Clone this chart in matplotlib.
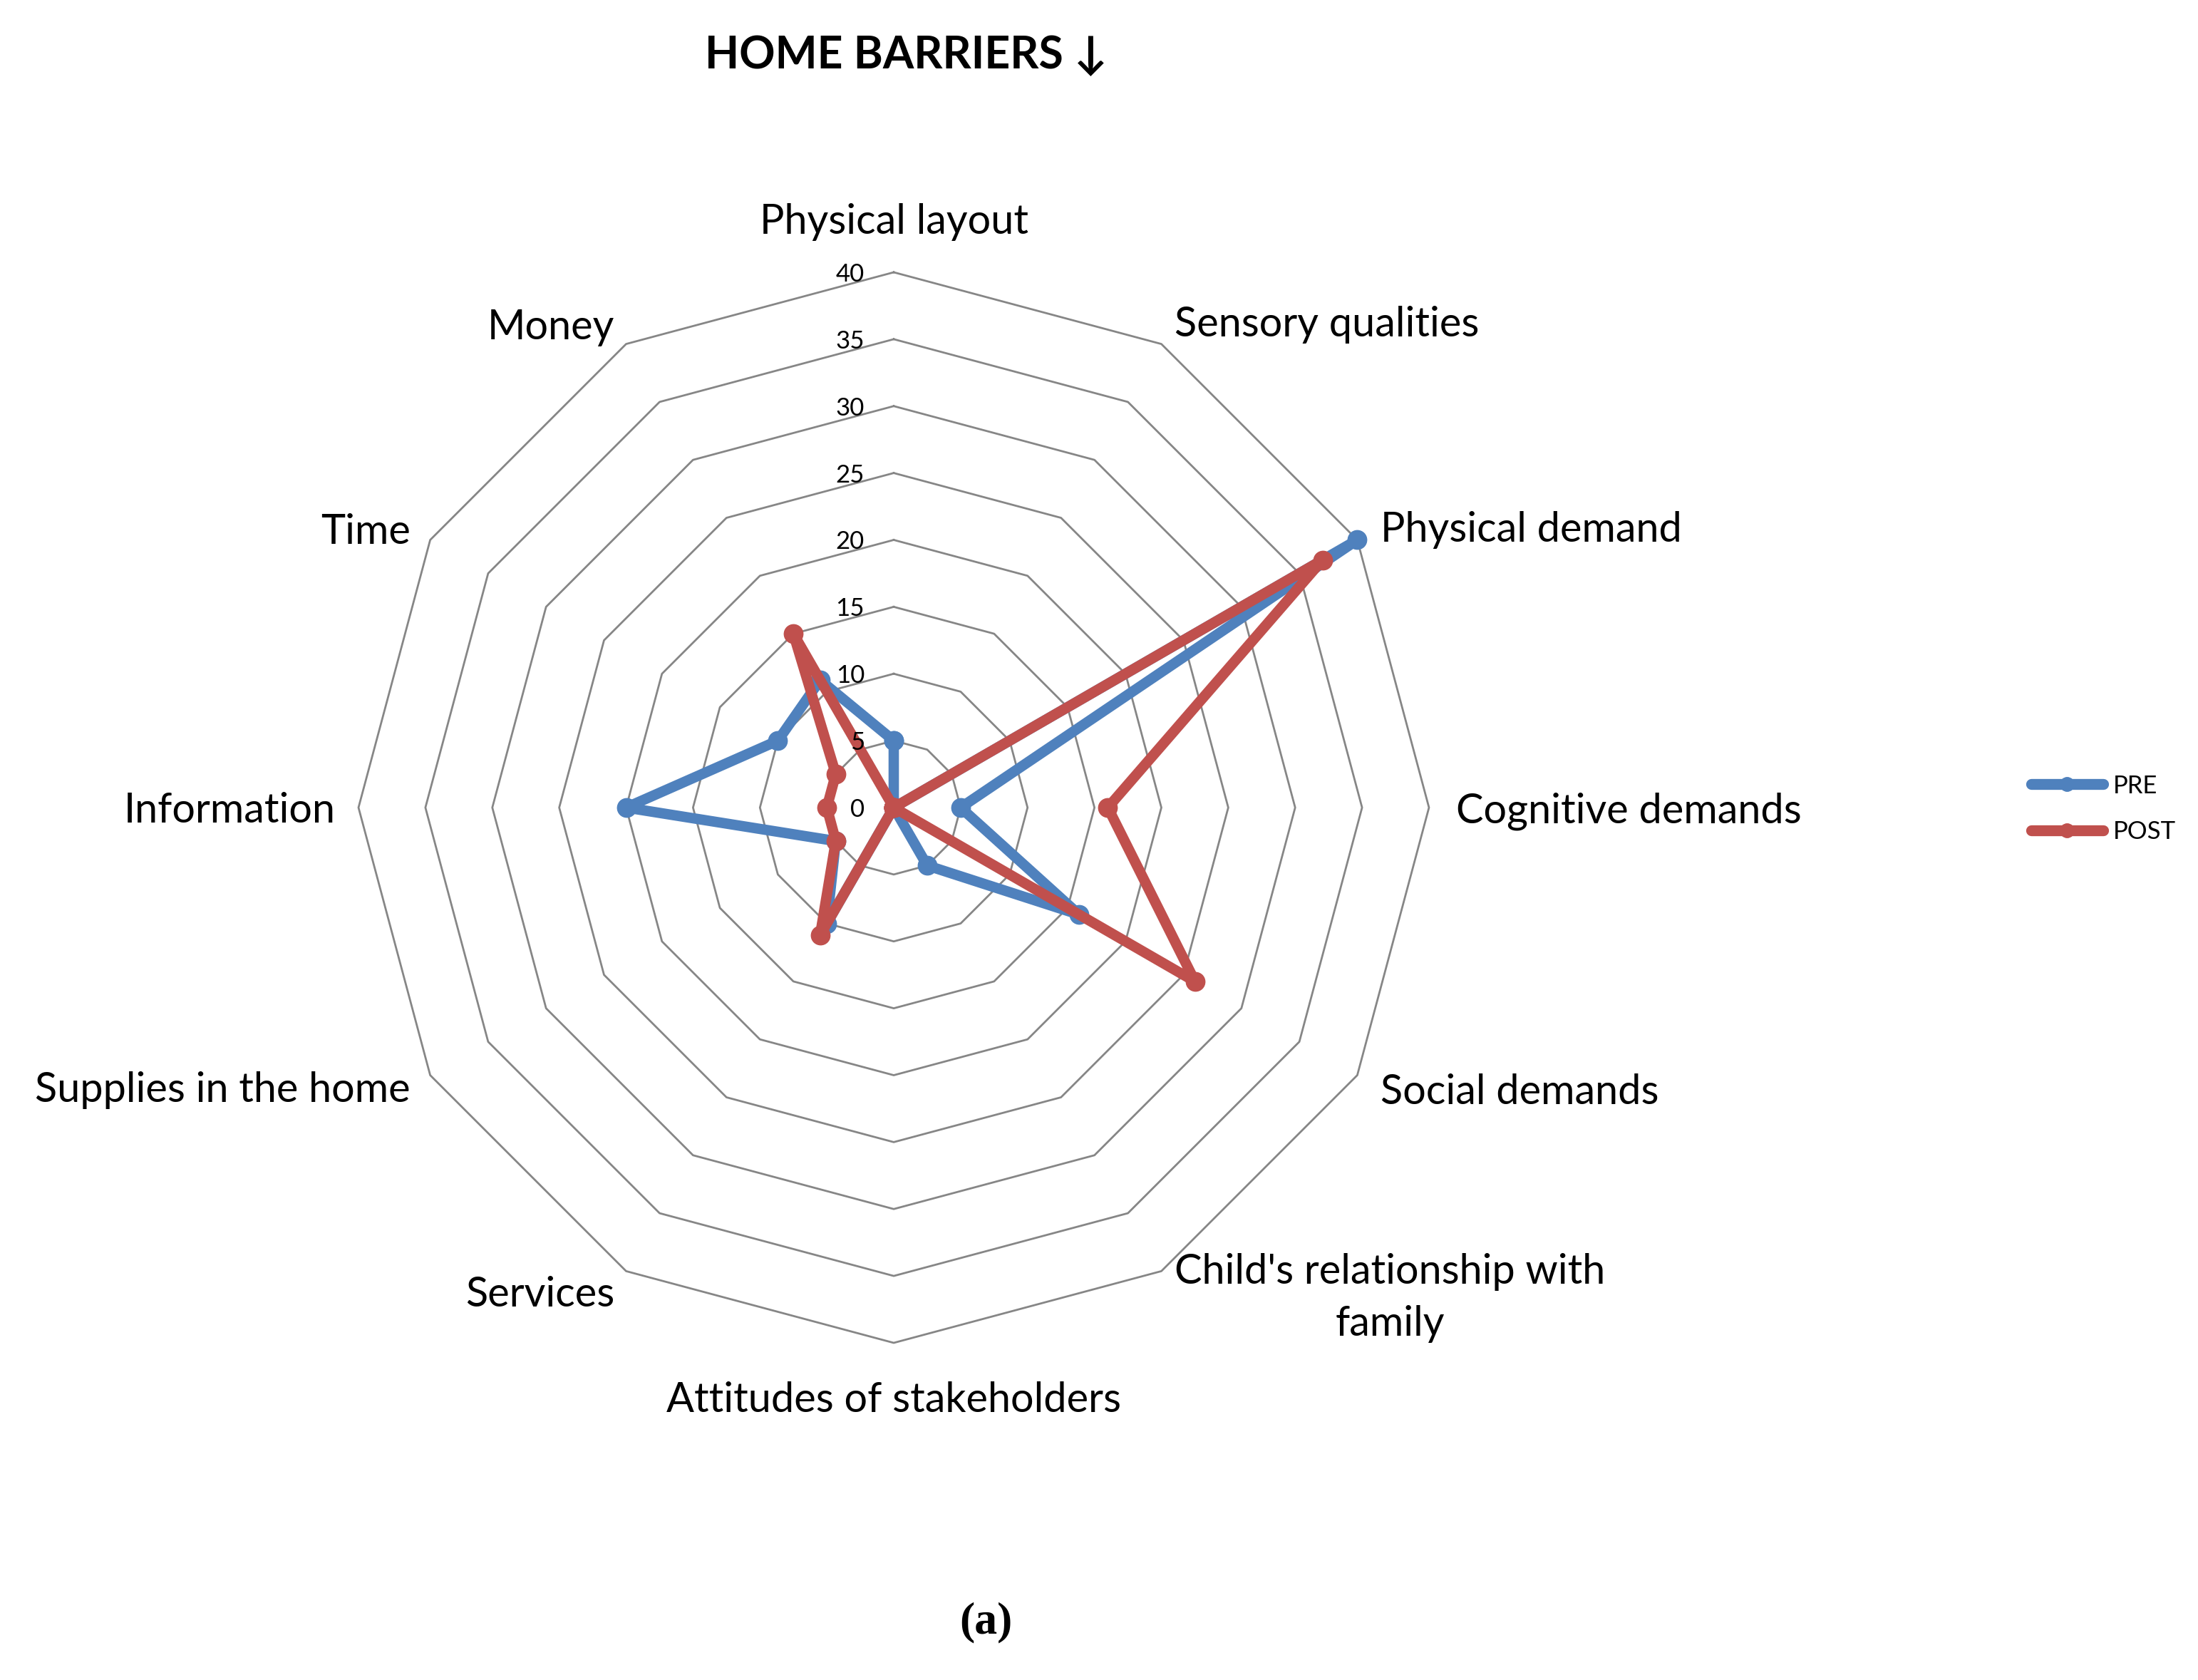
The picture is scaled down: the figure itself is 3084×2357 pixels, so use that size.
import numpy as np
import matplotlib
matplotlib.use("Agg")
import matplotlib.pyplot as plt
from matplotlib.transforms import offset_copy
from matplotlib.lines import Line2D

categories = ["Physical layout", "Sensory qualities", "Physical demand", "Cognitive demands",
              "Social demands", "Child's relationship with\nfamily", "Attitudes of stakeholders",
              "Services", "Supplies in the home", "Information", "Time", "Money"]
pre_values = [5, 0, 40, 5, 16, 5, 0, 10, 5, 20, 10, 11]
post_values = [0, 0, 37, 16, 26, 0, 0, 11, 5, 5, 5, 15]
series_names = ["PRE", "POST"]
r_ticks = [0, 5, 10, 15, 20, 25, 30, 35, 40]

BLUE = "#4F81BD"
RED = "#C0504D"
GRID = "#868686"
FONT = ["Lato", "DejaVu Sans"]

plt.rcParams['font.family'] = FONT

W, H = 3084, 2357
fig = plt.figure(figsize=(W / 100, H / 100), dpi=100)

cx, cy, R = 1254 / W, 1 - 1133 / H, 751
ax = fig.add_axes([cx - R / W, cy - R / H, 2 * R / W, 2 * R / H], projection='polar')
ax.set_theta_zero_location('N')
ax.set_theta_direction(-1)
ax.set_ylim(0, 40)
ax.grid(False)
ax.spines['polar'].set_visible(False)
ax.set_xticks([])
ax.set_yticks([])
ax.patch.set_alpha(0)

n = len(categories)
theta = np.linspace(0, 2 * np.pi, n, endpoint=False)
theta_c = np.append(theta, theta[0])

# polygon grid rings
for rv in r_ticks[1:]:
    ax.plot(theta_c, [rv] * (n + 1), color=GRID, lw=2.0, zorder=1, clip_on=False)

# tick labels
tick_tr = offset_copy(ax.transData, fig=fig, x=-41, y=-3, units='dots')
for rv in r_ticks:
    ax.text(0, rv, str(rv), transform=tick_tr, ha='right', va='center', fontsize=25, zorder=5)

# data
for vals, col, name in [(pre_values, BLUE, series_names[0]), (post_values, RED, series_names[1])]:
    v = np.append(vals, vals[0])
    ax.plot(theta_c, v, color=col, lw=10.5, marker='o', markersize=19, markerfacecolor=col,
            markeredgecolor=col, markeredgewidth=1, solid_joinstyle='round', zorder=3,
            clip_on=False, label=name)

# category labels
LFS = 41.5
lab_tr = offset_copy(ax.transData, fig=fig, x=0, y=-5, units='dots')
for t, lab in zip(theta, categories):
    deg = np.degrees(t)
    if np.isclose(deg, 0) or np.isclose(deg, 180):
        ax.text(t, 44, lab, ha='center', va='center', fontsize=LFS, transform=lab_tr)
    elif deg < 180:
        ax.text(t, 42, lab, ha='left', va='center', fontsize=LFS, multialignment='center',
                linespacing=1.45, transform=lab_tr)
    else:
        ax.text(t, 41.7, lab, ha='right', va='center', fontsize=LFS, multialignment='center',
                transform=lab_tr)

# legend
handles = [Line2D([0], [0], color=BLUE, lw=11, marker='o', markersize=14, solid_capstyle='round'),
           Line2D([0], [0], color=RED, lw=11, marker='o', markersize=14, solid_capstyle='round')]
fig.legend(handles, series_names, loc='center left', bbox_to_anchor=(2850 / W, 1 - 1135 / H),
           frameon=False, fontsize=25, handlelength=2.9, handletextpad=0.4, labelspacing=0.95,
           borderpad=0, borderaxespad=0)

fig.text(1271 / W, 1 - 78 / H, "HOME BARRIERS \u2193", ha='center', va='center',
         fontsize=45, fontweight='bold', family=FONT)
fig.text(1383 / W, 1 - 2276 / H, "(a)", ha='center', va='center', fontsize=46,
         fontweight='bold', family=["Liberation Serif", "DejaVu Serif"])

fig.savefig("out.png", dpi=100)
